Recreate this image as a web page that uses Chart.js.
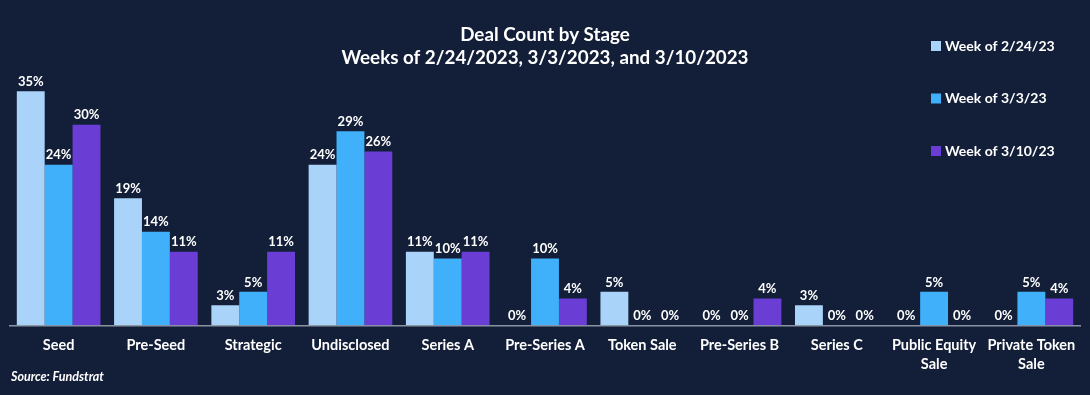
<!DOCTYPE html>
<html>
<head>
<meta charset="utf-8">
<script src="https://cdn.jsdelivr.net/npm/chart.js@4/dist/chart.umd.min.js"></script>
<style>
  html, body { margin: 0; padding: 0; background: #131f38; }
  #wrap { position: relative; width: 1090px; height: 395px; }
</style>
</head>
<body>
<div id="wrap"><canvas id="dealChart" width="1090" height="395"></canvas></div>
<script>
// categories and series (percent of deals)
const stages = ['Seed', 'Pre-Seed', 'Strategic', 'Undisclosed', 'Series A', 'Pre-Series A',
  'Token Sale', 'Pre-Series B', 'Series C', ['Public Equity', 'Sale'], ['Private Token', 'Sale']];
const week0224 = [35, 19, 3, 24, 11, 0, 5, 0, 3, 0, 0];
const week0303 = [24, 14, 5, 29, 10, 10, 0, 0, 0, 5, 5];
const week0310 = [30, 11, 11, 26, 11, 4, 0, 4, 0, 0, 4];
const seriesNames = ['Week of 2/24/23', 'Week of 3/3/23', 'Week of 3/10/23'];
const seriesColors = ['#a9d3f9', '#41b0fa', '#6a3dd5'];

const FONT = 'Lato, "Open Sans", sans-serif';

// values above the bars
const barLabels = {
  id: 'barLabels',
  afterDatasetsDraw(chart) {
    const ctx = chart.ctx;
    ctx.save();
    ctx.fillStyle = '#ffffff';
    ctx.font = 'bold 13px ' + FONT;
    ctx.textAlign = 'center';
    ctx.textBaseline = 'bottom';
    chart.data.datasets.forEach((ds, i) => {
      chart.getDatasetMeta(i).data.forEach((bar, j) => {
        ctx.fillText(ds.data[j] + '%', bar.x, bar.y - 3);
      });
    });
    ctx.restore();
  }
};

// legend drawn at the top right, over the plot
const sideLegend = {
  id: 'sideLegend',
  afterDraw(chart) {
    const ctx = chart.ctx;
    ctx.save();
    ctx.font = 'bold 14px ' + FONT;
    ctx.textBaseline = 'middle';
    chart.data.datasets.forEach((ds, i) => {
      const y = 46 + i * 52.5;
      ctx.fillStyle = ds.backgroundColor;
      ctx.fillRect(931, y - 5, 10, 10);
      ctx.fillStyle = '#ffffff';
      ctx.fillText(ds.label, 945, y);
    });
    // source note
    ctx.font = 'italic bold 12.5px ' + FONT;
    ctx.fillText('Source: Fundstrat', 11, 377);
    ctx.restore();
  }
};

const ctx = document.getElementById('dealChart').getContext('2d');
new Chart(ctx, {
  type: 'bar',
  data: {
    labels: stages,
    datasets: [week0224, week0303, week0310].map((vals, i) => ({
      label: seriesNames[i],
      data: vals,
      backgroundColor: seriesColors[i],
      borderWidth: 0,
      categoryPercentage: 0.86,
      barPercentage: 1.0
    }))
  },
  options: {
    responsive: false,
    animation: false,
    layout: { padding: { left: 10, right: 10, top: 0, bottom: 18 } },
    plugins: {
      legend: { display: false },
      tooltip: { enabled: false },
      title: {
        display: true,
        text: ['Deal Count by Stage', 'Weeks of 2/24/2023, 3/3/2023, and 3/10/2023'],
        color: '#ffffff',
        font: { family: FONT, size: 18.8, weight: 'bold', lineHeight: 1.2 },
        padding: { top: 24, bottom: 2 }
      }
    },
    scales: {
      x: {
        grid: { display: false },
        border: { display: true, color: '#8a93a3', width: 1.5 },
        ticks: {
          color: '#ffffff',
          font: { family: FONT, size: 14.5, weight: 'bold', lineHeight: 1.3 },
          padding: 3,
          maxRotation: 0,
          autoSkip: false
        }
      },
      y: {
        display: false,
        min: 0,
        max: 38
      }
    }
  },
  plugins: [barLabels, sideLegend]
});
</script>
</body>
</html>
